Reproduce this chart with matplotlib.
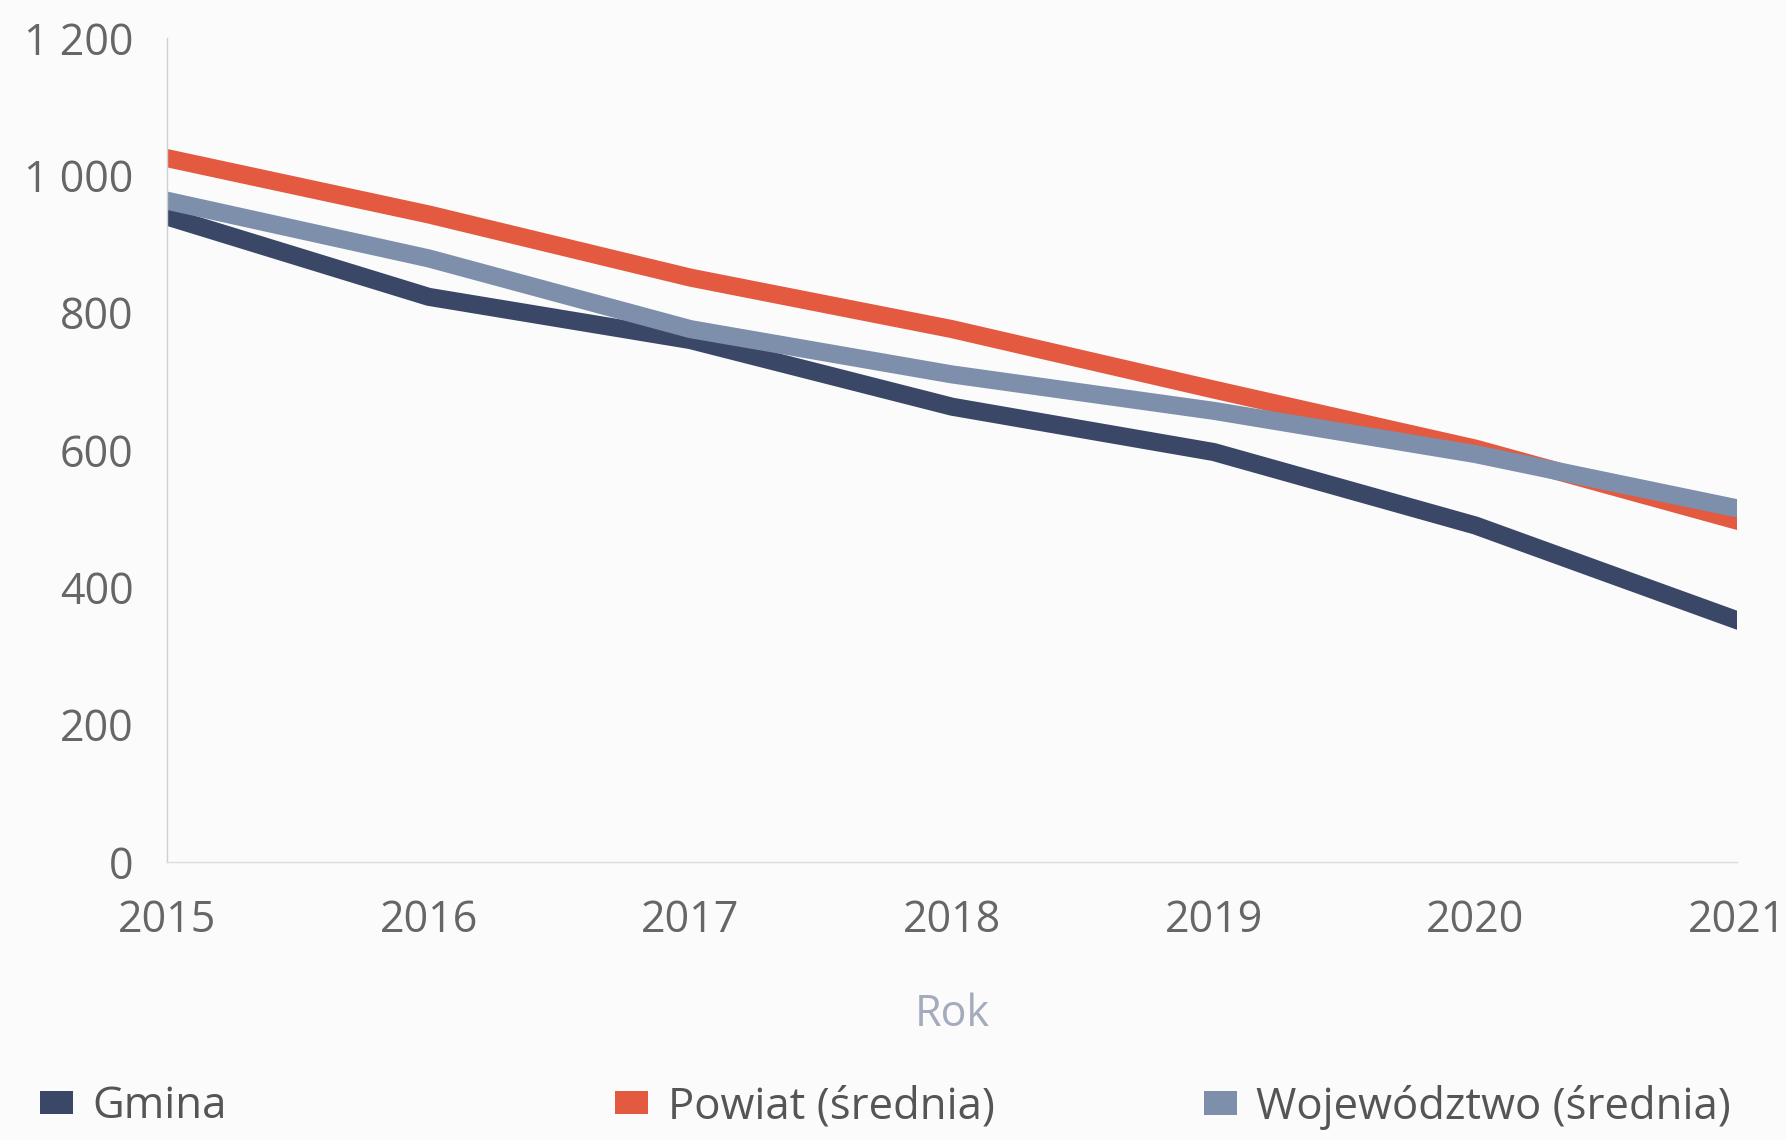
import matplotlib.pyplot as plt
from matplotlib.patches import Patch
from matplotlib.ticker import FuncFormatter

# values
years = [2015, 2016, 2017, 2018, 2019, 2020, 2021]
gmina = [940, 823, 760, 663, 597, 490, 352]
powiat = [1025, 943, 851, 776, 688, 602, 497]
wojewodztwo = [963, 879, 776, 710, 657, 594, 515]

series_names = ["Gmina", "Powiat (średnia)", "Województwo (średnia)"]
series_colors = ["#3b4766", "#e35a41", "#7d8fab"]

plt.rcParams['font.family'] = ['Open Sans', 'DejaVu Sans']

fig = plt.figure(figsize=(17.86, 11.40), dpi=100, facecolor='#fbfbfb')
ax = fig.add_axes([0.0935, 0.2439, 0.8791, 0.7228])
ax.set_facecolor('#fbfbfb')

for vals, col in zip([gmina, powiat, wojewodztwo], series_colors):
    ax.plot(years, vals, color=col, linewidth=13, solid_capstyle='projecting',
            solid_joinstyle='round')

ax.set_xlim(2015, 2021)
ax.set_ylim(0, 1200)
ax.set_xticks(years)
ax.set_yticks([0, 200, 400, 600, 800, 1000, 1200])
ax.yaxis.set_major_formatter(FuncFormatter(lambda v, p: f"{v:,.0f}".replace(",", " ")))
ax.tick_params(axis='both', length=0, labelsize=31, labelcolor='#666666')
ax.tick_params(axis='y', pad=24)
ax.tick_params(axis='x', pad=26)

for s in ['top', 'right']:
    ax.spines[s].set_visible(False)
ax.spines['left'].set_color('#d0d0d0')
ax.spines['left'].set_linewidth(1)
ax.spines['bottom'].set_color('#dcdcdc')
ax.spines['bottom'].set_linewidth(1)

ax.set_xlabel("Rok", fontsize=31, color='#a3abbd', labelpad=36)

# legend items spread across the bottom
legend_x = [40 / 1786, 615 / 1786, 1204 / 1786]
for name, col, lx in zip(series_names, series_colors, legend_x):
    fig.legend(handles=[Patch(facecolor=col, edgecolor='none', label=name)],
               loc='center left', bbox_to_anchor=(lx, 1 - 1107 / 1140),
               frameon=False, fontsize=31.5, labelcolor='#555555',
               handlelength=0.75, handleheight=0.45, handletextpad=0.45,
               borderpad=0, borderaxespad=0)

plt.savefig("out.png", dpi=100, facecolor=fig.get_facecolor())
